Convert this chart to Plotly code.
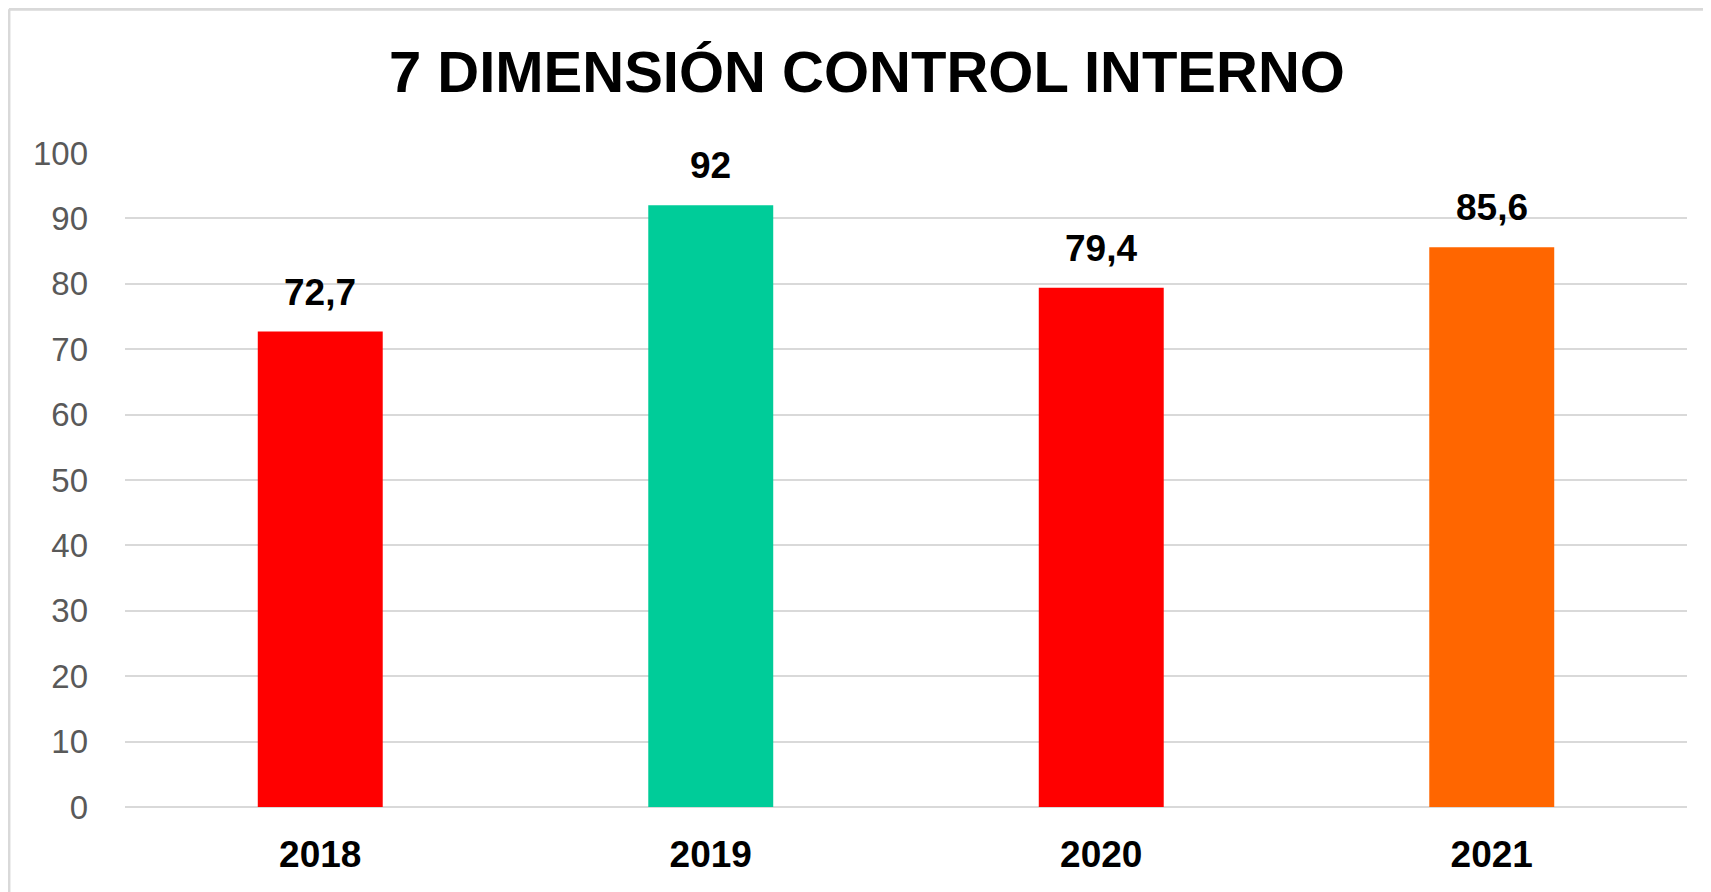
import plotly.graph_objects as go

years = ["2018", "2019", "2020", "2021"]
values = [72.7, 92, 79.4, 85.6]
labels = ["72,7", "92", "79,4", "85,6"]
colors = ["#ff0000", "#00cc99", "#ff0000", "#ff6600"]
y_ticks = [0, 10, 20, 30, 40, 50, 60, 70, 80, 90, 100]
title_text = "7 DIMENSIÓN CONTROL INTERNO"

fig = go.Figure()
fig.add_trace(go.Bar(x=years, y=values, marker=dict(color=colors, line=dict(width=0)),
                     hoverinfo="skip"))

# on a category axis annotation x is the category index
for i, (v, lab) in enumerate(zip(values, labels)):
    fig.add_annotation(x=i, y=v, text="<b>%s</b>" % lab, showarrow=False,
                       yanchor="bottom", yshift=17,
                       font=dict(family="Liberation Sans, Arial", size=37, color="#000000"))

# outer chart border (light gray)
fig.add_shape(type="line", xref="paper", yref="paper", x0=-0.0743, x1=-0.0743, y0=-0.2, y1=1.2198,
              line=dict(color="#d9d9d9", width=3))
fig.add_shape(type="line", xref="paper", yref="paper", x0=-0.0743, x1=1.2, y0=1.2198, y1=1.2198,
              line=dict(color="#d9d9d9", width=3))

fig.update_layout(
    width=1711, height=892,
    margin=dict(l=117, r=32, t=145, b=93),
    paper_bgcolor="white", plot_bgcolor="white",
    showlegend=False,
    bargap=0.68,
    title=dict(text="<b>%s</b>" % title_text, x=0.502, xanchor="center", y=0.929, yanchor="middle",
               font=dict(family="Liberation Sans, Arial", size=58, color="#000000")),
    xaxis=dict(type="category", range=[-0.5, 3.5], showgrid=False, zeroline=False, showline=False,
               ticks="", ticklabelstandoff=22,
               tickfont=dict(family="Liberation Sans, Arial", size=37, color="#000000"),
               tickprefix="<b>", ticksuffix="</b>"),
    yaxis=dict(range=[0, 100], tickvals=y_ticks, showgrid=True, gridcolor="#d9d9d9", gridwidth=2,
               zeroline=True, zerolinecolor="#d9d9d9", zerolinewidth=2, showline=False,
               ticks="", ticklabelstandoff=36,
               tickfont=dict(family="Liberation Sans, Arial", size=33, color="#595959")),
)

fig.write_html("out.html")
